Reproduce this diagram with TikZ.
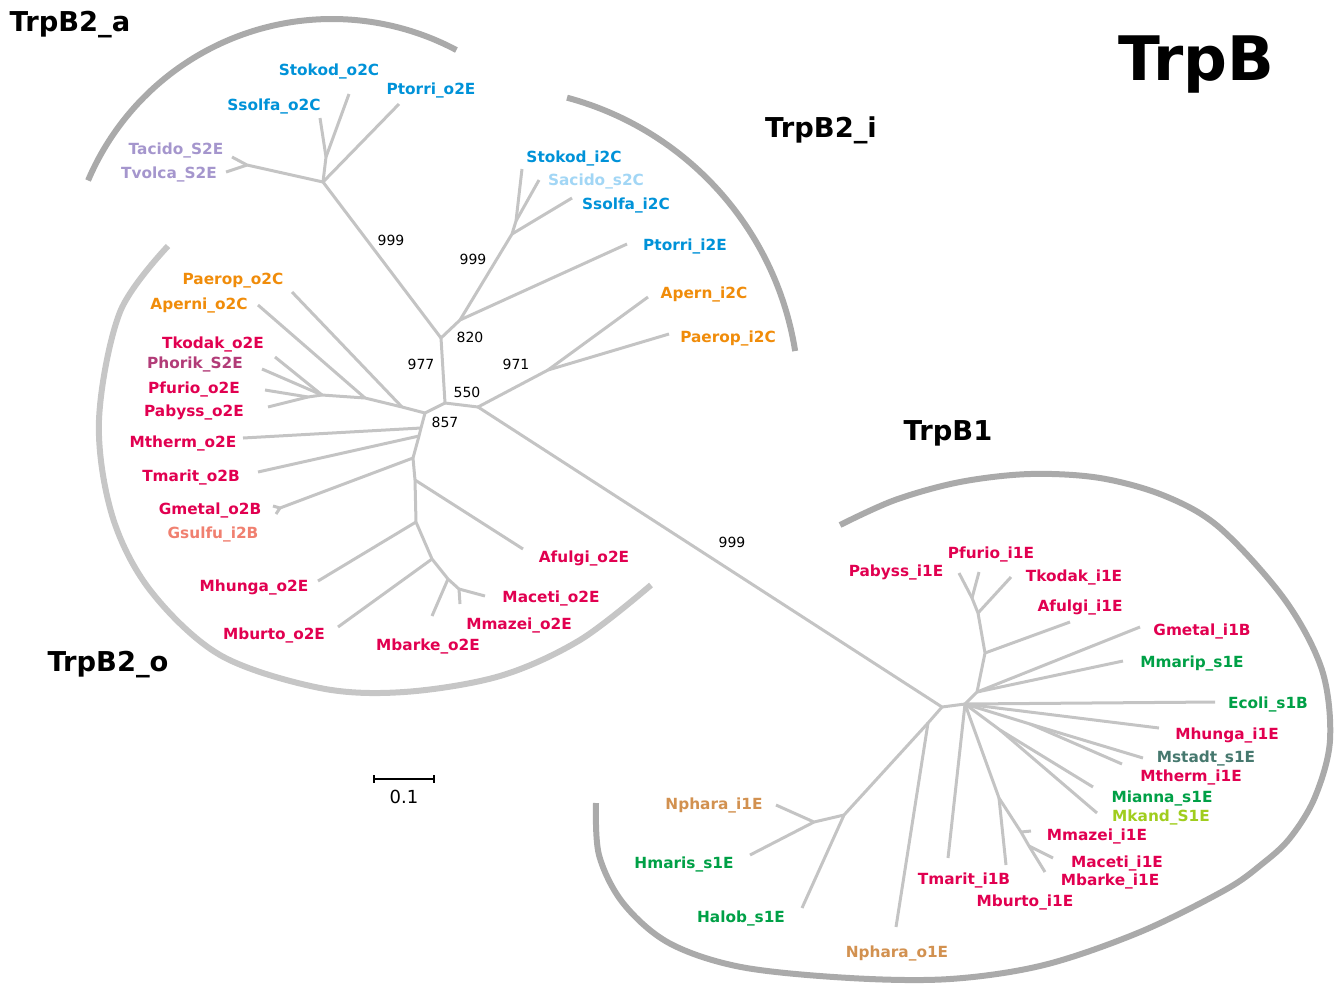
\documentclass[tikz,border=0pt]{standalone}
\usepackage{fontspec}
\setmainfont{DejaVu Sans}
\definecolor{brgray}{RGB}{196,196,196}
\definecolor{arcdark}{RGB}{170,170,170}
\definecolor{arclight}{RGB}{198,198,198}
\definecolor{cblue}{RGB}{0,146,216}
\definecolor{csky}{RGB}{162,214,245}
\definecolor{clav}{RGB}{165,150,205}
\definecolor{corange}{RGB}{240,140,10}
\definecolor{cred}{RGB}{225,0,80}
\definecolor{cplum}{RGB}{178,60,120}
\definecolor{csalmon}{RGB}{240,128,112}
\definecolor{cgreen}{RGB}{0,160,70}
\definecolor{cteal}{RGB}{70,120,110}
\definecolor{clime}{RGB}{160,205,30}
\definecolor{ctan}{RGB}{210,145,80}

\begin{document}
\begin{tikzpicture}[x=0.75pt, y=-0.75pt,
    branch/.style={draw=brgray, line width=2.25pt, line join=round},
    cladearc/.style={line width=4.5pt},
    leaf/.style={font=\fontsize{11.5}{13}\selectfont\bfseries, anchor=base, inner sep=0pt},
    boot/.style={font=\fontsize{10.5}{12}\selectfont, inner sep=0pt},
    group/.style={font=\fontsize{20.5}{24}\selectfont\bfseries, anchor=base, inner sep=0pt}]
    \useasboundingbox (0,0) rectangle (1334,983);

    % Clade arcs
    \draw[cladearc, arcdark] (332,284) ++(203:265) arc[start angle=203, end angle=298, radius=265];
    \draw[cladearc, arcdark] (486,400) ++(285:313) arc[start angle=285, end angle=351, radius=313];
    \draw[cladearc, arclight] plot[smooth, tension=0.55] coordinates {(168,246) (120,312) (99,420) (112,515) (150,590) (220,655) (320,688) (404,692) (500,676) (580,640) (651,585)};
    \draw[cladearc, arcdark] plot[smooth, tension=0.55] coordinates {(840,525) (895,500) (960,482) (1030,474) (1100,478) (1165,496) (1220,528) (1285,600) (1322,670) (1330,740) (1315,797) (1290,838) (1262,864) (1225,890) (1140,932) (1044,965) (950,979) (850,978) (741,967) (669,943) (623,903) (599,855) (596,803)};

    % Centre of the tree
    \coordinate (r977) at (441,338);
    \coordinate (r820) at (460,320);
    \coordinate (r550) at (445,403);
    \coordinate (r971a) at (478,407);
    \coordinate (r857) at (425,413);
    \draw[branch] (r820) -- (r977) -- (r550) -- (r857);
    \draw[branch] (r550) -- (r971a);

    % TrpB2_a
    \coordinate (a0) at (323,182);
    \coordinate (a1) at (326,157);
    \coordinate (a2) at (247,165);
    \coordinate (eStokodO) at (349,94);
    \coordinate (eSsolfaO) at (320,118);
    \coordinate (ePtorriO) at (399,104);
    \coordinate (eTacido) at (232,157);
    \coordinate (eTvolca) at (226,172);
    \draw[branch] (r977) -- (a0) -- (a1) -- (eSsolfaO);
    \draw[branch] (a1) -- (eStokodO);
    \draw[branch] (a0) -- (ePtorriO);
    \draw[branch] (a0) -- (a2) -- (eTacido);
    \draw[branch] (a2) -- (eTvolca);

    % TrpB2_i
    \coordinate (i1) at (512,234);
    \coordinate (i2) at (516,221);
    \coordinate (eStokodI) at (522,169);
    \coordinate (eSacido) at (539,180);
    \coordinate (eSsolfaI) at (572,198);
    \coordinate (ePtorriI) at (627,244);
    \coordinate (r971) at (548,370);
    \coordinate (eApernI) at (648,297);
    \coordinate (ePaeropI) at (669,334);
    \draw[branch] (r820) -- (i1) -- (i2) -- (eStokodI);
    \draw[branch] (i2) -- (eSacido);
    \draw[branch] (i1) -- (eSsolfaI);
    \draw[branch] (r820) -- (ePtorriI);
    \draw[branch] (r971a) -- (r971) -- (eApernI);
    \draw[branch] (r971) -- (ePaeropI);

    % TrpB2_o
    \coordinate (o1) at (402,407);
    \coordinate (o2) at (365,398);
    \coordinate (o3) at (322,395);
    \coordinate (o4) at (308,397);
    \coordinate (o5) at (421,428);
    \coordinate (o6) at (419,436);
    \coordinate (o7) at (413,458);
    \coordinate (o8) at (280,508);
    \coordinate (o9) at (415,480);
    \coordinate (o10) at (416,522);
    \coordinate (o11) at (432,559);
    \coordinate (o12) at (448,579);
    \coordinate (o13) at (459,589);
    \coordinate (ePaeropO) at (292,292);
    \coordinate (eAperniO) at (258,305);
    \coordinate (eTkodakO) at (275,357);
    \coordinate (ePhorik) at (262,369);
    \coordinate (ePfurioO) at (265,390);
    \coordinate (ePabyssO) at (268,407);
    \coordinate (eMthermO) at (243,438);
    \coordinate (eTmaritO) at (258,472);
    \coordinate (eGmetalO) at (273,506);
    \coordinate (eGsulfu) at (276,514);
    \coordinate (eAfulgiO) at (523,549);
    \coordinate (eMhungaO) at (318,581);
    \coordinate (eMburtoO) at (338,627);
    \coordinate (eMbarkeO) at (432,616);
    \coordinate (eMacetiO) at (485,596);
    \coordinate (eMmazeiO) at (460,604);
    \draw[branch] (r857) -- (o1) -- (o2) -- (o3) -- (o4) -- (ePfurioO);
    \draw[branch] (o4) -- (ePabyssO);
    \draw[branch] (o3) -- (eTkodakO);
    \draw[branch] (o3) -- (ePhorik);
    \draw[branch] (o2) -- (eAperniO);
    \draw[branch] (o1) -- (ePaeropO);
    \draw[branch] (r857) -- (o5) -- (o6) -- (o7) -- (o9) -- (o10) -- (o11) -- (o12) -- (o13) -- (eMacetiO);
    \draw[branch] (o13) -- (eMmazeiO);
    \draw[branch] (o12) -- (eMbarkeO);
    \draw[branch] (o11) -- (eMburtoO);
    \draw[branch] (o10) -- (eMhungaO);
    \draw[branch] (o9) -- (eAfulgiO);
    \draw[branch] (o7) -- (o8) -- (eGmetalO);
    \draw[branch] (o8) -- (eGsulfu);
    \draw[branch] (o6) -- (eTmaritO);
    \draw[branch] (o5) -- (eMthermO);

    % TrpB1
    \coordinate (b0) at (942,707);
    \coordinate (b1) at (965,704);
    \coordinate (b2) at (928,723);
    \coordinate (b3) at (844,815);
    \coordinate (b4) at (814,822);
    \coordinate (b5) at (977,692);
    \coordinate (b6) at (985,653);
    \coordinate (b7) at (978,613);
    \coordinate (b8) at (972,598);
    \coordinate (b9) at (1030,724);
    \coordinate (b10) at (1000,730);
    \coordinate (b11) at (999,798);
    \coordinate (b12) at (1021,832);
    \coordinate (b13) at (1029,846);
    \coordinate (eNpharaO) at (896,927);
    \coordinate (eHalob) at (802,908);
    \coordinate (eNpharaI) at (776,805);
    \coordinate (eHmaris) at (750,855);
    \coordinate (ePabyssI) at (959,573);
    \coordinate (ePfurioI) at (979,572);
    \coordinate (eTkodakI) at (1011,577);
    \coordinate (eAfulgiI) at (1070,622);
    \coordinate (eGmetalI) at (1140,627);
    \coordinate (eMmarip) at (1123,661);
    \coordinate (eEcoli) at (1215,702);
    \coordinate (eMhungaI) at (1159,728);
    \coordinate (eMstadt) at (1143,758);
    \coordinate (eMthermI) at (1122,764);
    \coordinate (eMianna) at (1093,787);
    \coordinate (eMkand) at (1097,813);
    \coordinate (eTmaritI) at (948,858);
    \coordinate (eMburtoI) at (1006,865);
    \coordinate (eMmazeiI) at (1031,831);
    \coordinate (eMacetiI) at (1053,858);
    \coordinate (eMbarkeI) at (1045,872);
    \draw[branch] (r971a) -- (b0) -- (b1);
    \draw[branch] (b0) -- (b2) -- (eNpharaO);
    \draw[branch] (b2) -- (b3) -- (eHalob);
    \draw[branch] (b3) -- (b4) -- (eNpharaI);
    \draw[branch] (b4) -- (eHmaris);
    \draw[branch] (b1) -- (b5) -- (b6) -- (b7) -- (b8) -- (ePabyssI);
    \draw[branch] (b8) -- (ePfurioI);
    \draw[branch] (b7) -- (eTkodakI);
    \draw[branch] (b6) -- (eAfulgiI);
    \draw[branch] (b5) -- (eGmetalI);
    \draw[branch] (b5) -- (eMmarip);
    \draw[branch] (b1) -- (eEcoli);
    \draw[branch] (b1) -- (eMhungaI);
    \draw[branch] (b1) -- (b9) -- (eMstadt);
    \draw[branch] (b9) -- (eMthermI);
    \draw[branch] (b1) -- (b10) -- (eMianna);
    \draw[branch] (b10) -- (eMkand);
    \draw[branch] (b1) -- (eTmaritI);
    \draw[branch] (b1) -- (b11) -- (b12) -- (b13) -- (eMbarkeI);
    \draw[branch] (b13) -- (eMacetiI);
    \draw[branch] (b12) -- (eMmazeiI);
    \draw[branch] (b11) -- (eMburtoI);

    % Leaf names
    \node[leaf, cblue] (tStokodO) at (329,75) {Stokod\_o2C};
    \node[leaf, cblue] (tPtorriO) at (431,94) {Ptorri\_o2E};
    \node[leaf, cblue] (tSsolfaO) at (274,110) {Ssolfa\_o2C};
    \node[leaf, clav] (tTacido) at (176,154) {Tacido\_S2E};
    \node[leaf, clav] (tTvolca) at (169,178) {Tvolca\_S2E};
    \node[leaf, cblue] (tStokodI) at (574,162) {Stokod\_i2C};
    \node[leaf, csky] (tSacido) at (596,185) {Sacido\_s2C};
    \node[leaf, cblue] (tSsolfaI) at (626,209) {Ssolfa\_i2C};
    \node[leaf, cblue] (tPtorriI) at (685,250) {Ptorri\_i2E};
    \node[leaf, corange] (tApernI) at (704,298) {Apern\_i2C};
    \node[leaf, corange] (tPaeropI) at (728,342) {Paerop\_i2C};
    \node[leaf, corange] (tPaeropO) at (233,284) {Paerop\_o2C};
    \node[leaf, corange] (tAperniO) at (199,309) {Aperni\_o2C};
    \node[leaf, cred] (tTkodakO) at (213,348) {Tkodak\_o2E};
    \node[leaf, cplum] (tPhorik) at (195,368) {Phorik\_S2E};
    \node[leaf, cred] (tPfurioO) at (194,393) {Pfurio\_o2E};
    \node[leaf, cred] (tPabyssO) at (194,416) {Pabyss\_o2E};
    \node[leaf, cred] (tMthermO) at (183,447) {Mtherm\_o2E};
    \node[leaf, cred] (tTmaritO) at (191,481) {Tmarit\_o2B};
    \node[leaf, cred] (tGmetalO) at (210,514) {Gmetal\_o2B};
    \node[leaf, csalmon] (tGsulfu) at (213,538) {Gsulfu\_i2B};
    \node[leaf, cred] (tAfulgiO) at (584,562) {Afulgi\_o2E};
    \node[leaf, cred] (tMhungaO) at (254,591) {Mhunga\_o2E};
    \node[leaf, cred] (tMacetiO) at (551,602) {Maceti\_o2E};
    \node[leaf, cred] (tMmazeiO) at (519,629) {Mmazei\_o2E};
    \node[leaf, cred] (tMburtoO) at (274,639) {Mburto\_o2E};
    \node[leaf, cred] (tMbarkeO) at (428,650) {Mbarke\_o2E};
    \node[leaf, cred] (tPfurioI) at (991,558) {Pfurio\_i1E};
    \node[leaf, cred] (tPabyssI) at (896,576) {Pabyss\_i1E};
    \node[leaf, cred] (tTkodakI) at (1074,581) {Tkodak\_i1E};
    \node[leaf, cred] (tAfulgiI) at (1080,611) {Afulgi\_i1E};
    \node[leaf, cred] (tGmetalI) at (1202,635) {Gmetal\_i1B};
    \node[leaf, cgreen] (tMmarip) at (1192,667) {Mmarip\_s1E};
    \node[leaf, cgreen] (tEcoli) at (1268,708) {Ecoli\_s1B};
    \node[leaf, cred] (tMhungaI) at (1227,739) {Mhunga\_i1E};
    \node[leaf, cteal] (tMstadt) at (1206,762) {Mstadt\_s1E};
    \node[leaf, cred] (tMthermI) at (1191,781) {Mtherm\_i1E};
    \node[leaf, cgreen] (tMianna) at (1162,802) {Mianna\_s1E};
    \node[leaf, clime] (tMkand) at (1161,821) {Mkand\_S1E};
    \node[leaf, cred] (tMmazeiI) at (1097,840) {Mmazei\_i1E};
    \node[leaf, cred] (tMacetiI) at (1117,867) {Maceti\_i1E};
    \node[leaf, cred] (tMbarkeI) at (1110,885) {Mbarke\_i1E};
    \node[leaf, cred] (tTmaritI) at (964,884) {Tmarit\_i1B};
    \node[leaf, cred] (tMburtoI) at (1025,906) {Mburto\_i1E};
    \node[leaf, ctan] (tNpharaI) at (714,809) {Nphara\_i1E};
    \node[leaf, cgreen] (tHmaris) at (684,868) {Hmaris\_s1E};
    \node[leaf, cgreen] (tHalob) at (741,922) {Halob\_s1E};
    \node[leaf, ctan] (tNpharaO) at (897,957) {Nphara\_o1E};

    % Bootstrap values
    \node[boot] (bs1) at (391,240) {999};
    \node[boot] (bs2) at (473,259) {999};
    \node[boot] (bs3) at (470,337) {820};
    \node[boot] (bs4) at (421,364) {977};
    \node[boot] (bs5) at (516,364) {971};
    \node[boot] (bs6) at (467,392) {550};
    \node[boot] (bs7) at (445,422) {857};
    \node[boot] (bs8) at (732,542) {999};

    % Group names
    \node[group] (gA) at (70,31) {TrpB2\_a};
    \node[group] (gI) at (821,137) {TrpB2\_i};
    \node[group] (gO) at (108,671) {TrpB2\_o};
    \node[group] (g1) at (948,440) {TrpB1};
    \node[group, font=\fontsize{46}{50}\selectfont\bfseries] (title) at (1196,80) {TrpB};

    % Scale bar
    \coordinate (sbL) at (374,779);
    \coordinate (sbR) at (434,779);
    \draw[line width=2pt] (sbL) -- (sbR);
    \draw[line width=1.5pt] (sbL) ++(0,-4) -- ++(0,8);
    \draw[line width=1.5pt] (sbR) ++(0,-4) -- ++(0,8);
    \node[font=\fontsize{13.5}{15}\selectfont, inner sep=0pt] (sbText) at (404,797) {0.1};
\end{tikzpicture}
\end{document}
